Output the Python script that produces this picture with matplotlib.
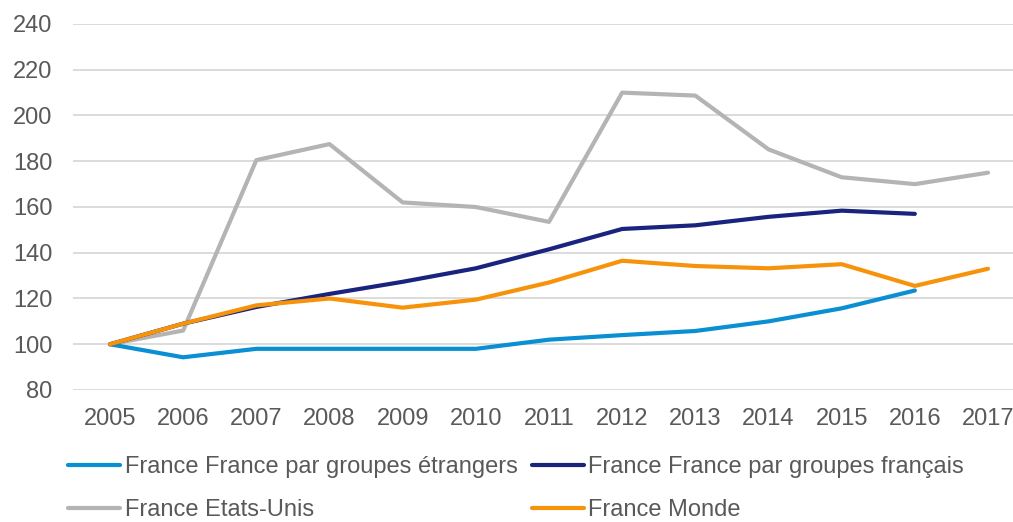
import matplotlib
matplotlib.use("Agg")
import matplotlib.pyplot as plt

years = ["2005", "2006", "2007", "2008", "2009", "2010", "2011",
         "2012", "2013", "2014", "2015", "2016", "2017"]
etrangers = [100, 94.3, 98, 98, 98, 98, 102, 104, 105.8, 110, 115.7, 123.5]
francais = [100, 109, 116.3, 122, 127.3, 133.2, 141.5, 150.4, 152, 155.7, 158.4, 157]
etats_unis = [100, 106, 180.5, 187.5, 162, 160, 153.5, 210, 208.7, 185.2, 173, 170, 175]
monde = [100, 109, 117, 120, 116, 119.5, 127, 136.5, 134.2, 133.2, 135, 125.5, 133]

labels = ["France France par groupes étrangers", "France France par groupes français",
          "France Etats-Unis", "France Monde"]
colors = ["#0A8FD3", "#1A237E", "#B4B4B4", "#F7930A"]
yticks = [80, 100, 120, 140, 160, 180, 200, 220, 240]

plt.rcParams['font.family'] = ['Liberation Sans', 'DejaVu Sans']

W, H = 1013, 522
fig = plt.figure(figsize=(W / 100, H / 100), dpi=100)
left, right = 73.4, 1024.6
top, bottom = 24, 390
ax = fig.add_axes([left / W, 1 - bottom / H, (right - left) / W, (bottom - top) / H])

series = [etrangers, francais, etats_unis, monde]
lines = []
for vals, c, lab in zip(series, colors, labels):
    x = list(range(len(vals)))
    ln, = ax.plot(x, vals, color=c, lw=3.0, label=lab, solid_capstyle='round',
                  solid_joinstyle='round', zorder=3)
    lines.append(ln)

lines[2].set_zorder(2)

ax.set_xlim(-0.5, 12.5)
ax.set_ylim(80, 240)
ax.set_yticks(yticks)
ax.set_xticks(range(len(years)))
ax.set_xticklabels(years)
ax.grid(axis='y', color='#D9D9D9', lw=1.3, zorder=0)
ax.set_axisbelow(True)
for s in ax.spines.values():
    s.set_visible(False)
ax.tick_params(axis='both', length=0, labelsize=17, colors='#595959')
ax.tick_params(axis='x', pad=13)
ax.tick_params(axis='y', pad=15)

order = [0, 2, 1, 3]
leg = fig.legend([lines[i] for i in order], [labels[i] for i in order],
                 ncol=2, loc='upper left', bbox_to_anchor=(68 / W, 1 - 456 / H),
                 frameon=False, fontsize=17, handlelength=2.2, handletextpad=0.2,
                 columnspacing=0.6, labelspacing=0.9, borderaxespad=0, borderpad=0)
for t in leg.get_texts():
    t.set_color('#595959')

fig.savefig("out.png", dpi=100)
